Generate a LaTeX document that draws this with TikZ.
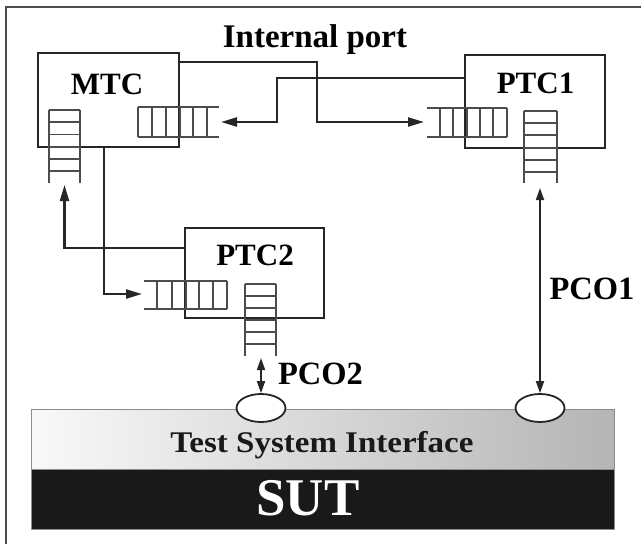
\documentclass[tikz,border=0pt]{standalone}
\usepackage{fontspec}
\setmainfont{Liberation Serif}
\usetikzlibrary{arrows.meta,shapes.geometric}
\begin{document}
\begin{tikzpicture}[x=1pt,y=-1pt,
  box/.style={draw=black!85, line width=2.2pt, inner sep=0pt},
  conn/.style={draw=black!85, line width=2.2pt},
  arr/.style={conn,-{Triangle[length=16pt,width=9pt]}},
  darr/.style={draw=black!85, line width=1.8pt,{Triangle[length=12pt,width=8pt]}-{Triangle[length=12pt,width=8pt]}},
  qline/.style={draw=black!70, line width=1.4pt},
  lbl/.style={font=\bfseries\fontsize{31}{31}\selectfont, anchor=base, inner sep=0pt},
  port/.style={ellipse, draw=black!85, fill=white, line width=1.8pt, minimum width=49pt, minimum height=28pt, inner sep=0pt}
]
\useasboundingbox (0,0) rectangle (641,544);
% frame
\draw[black!70, line width=1.5pt] (6,544) -- (6,7) -- (641,7);

% boxes
\node[box, minimum width=141pt, minimum height=94pt] (mtc) at (108.5,100) {};
\node[box, minimum width=140pt, minimum height=93pt] (ptc1) at (535,101.5) {};
\node[box, minimum width=139pt, minimum height=90pt] (ptc2) at (254.5,273) {};

% labels
\node[lbl] (mtcl) at (107,94) {MTC};
\node[lbl] (ptc1l) at (535.5,93) {PTC1};
\node[lbl] (ptc2l) at (255,265) {PTC2};
\node[lbl, font=\bfseries\fontsize{33}{33}\selectfont] (ipl) at (315,47) {Internal port};
\node[lbl, font=\bfseries\fontsize{32.5}{32.5}\selectfont] (pco1l) at (592,299) {PCO1};
\node[lbl, font=\bfseries\fontsize{32.5}{32.5}\selectfont] (pco2l) at (320.5,384) {PCO2};

% queues: MTC horizontal (closed left, open right)
\draw[qline] (138,107) -- (219,107) (138,137) -- (219,137);
\foreach \x in {138,152,166,180,193,207} \draw[qline] (\x,107) -- (\x,137);
% MTC vertical (open bottom)
\draw[qline] (49,110) -- (49,183) (80,110) -- (80,183);
\foreach \y in {110,122,134.5,147,159,171} \draw[qline] (49,\y) -- (80,\y);
% PTC1 horizontal (open left)
\draw[qline] (427,108) -- (507,108) (427,137) -- (507,137);
\foreach \x in {440,453,467,480,493,507} \draw[qline] (\x,108) -- (\x,137);
% PTC1 vertical
\draw[qline] (524,111) -- (524,183) (557,111) -- (557,183);
\foreach \y in {111,123,135,148,160,172} \draw[qline] (524,\y) -- (557,\y);
% PTC2 horizontal (open left)
\draw[qline] (144,281) -- (227,281) (144,309) -- (227,309);
\foreach \x in {157,172,186,199,213,227} \draw[qline] (\x,281) -- (\x,309);
% PTC2 vertical
\draw[qline] (245,284) -- (245,356) (276,284) -- (276,356);
\foreach \y in {284,296,308,320,332,344} \draw[qline] (245,\y) -- (276,\y);

% named connector ends
\coordinate (q1in) at (424,122);
\coordinate (mqin) at (221,122);
\coordinate (mvin) at (64.5,185);
\coordinate (q2in) at (142,294);
\coordinate (v1out) at (540,188);
\coordinate (v2out) at (261,358);

% internal port connectors
\draw[arr] (mtc.east |- 0,62) -- (317,62) -- (317,122) -- (q1in);
\draw[arr] (ptc1.west |- 0,78) -- (277,78) -- (277,122) -- (mqin);
% MTC <-> PTC2
\draw[arr] (ptc2.west |- 0,248) -- (64.5,248) -- (mvin);
\draw[arr] (mtc.south -| 104,0) -- (104,294) -- (q2in);

% test system interface and SUT
\node[draw=black!45, line width=1pt, left color=gray!5, right color=gray!58, minimum width=583pt, minimum height=60pt, inner sep=0pt] (tsi) at (322.5,439) {};
\node[draw=black!45, line width=1pt, fill=black!90, minimum width=583pt, minimum height=60pt, inner sep=0pt] (sut) at (322.5,499) {};
\node[lbl, font=\bfseries\fontsize{30}{30}\selectfont, text=black!90] (tsil) at (322,452) {\scalebox{1.1}[1]{Test System Interface}};
\node[lbl, font=\bfseries\fontsize{53}{53}\selectfont, text=white] (sutl) at (308,515) {SUT};

% ports
\node[port] (e1) at (261,408) {};
\node[port] (e2) at (540,408) {};

% PCO arrows
\draw[darr] (v1out) -- (e2.north);
\draw[darr] (v2out) -- (e1.north);
\end{tikzpicture}
\end{document}
